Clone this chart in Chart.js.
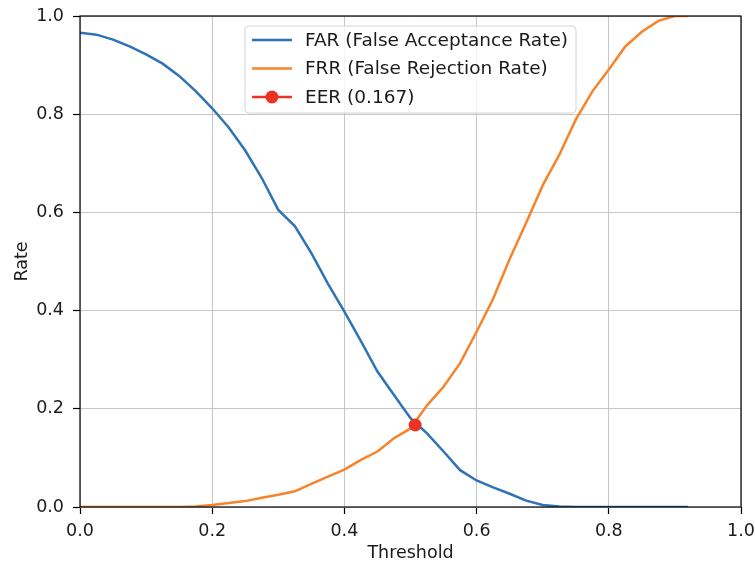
<!DOCTYPE html>
<html>
<head>
<meta charset="utf-8">
<script src="https://cdn.jsdelivr.net/npm/chart.js@4"></script>
<style>
  body { margin: 0; background: #fff; }
  #chartContainer { width: 755px; height: 562px; }
</style>
</head>
<body>
<div id="chartContainer"><canvas id="myChart" width="755" height="562"></canvas></div>
<script>
// thresholds shared by both curves
const thresholds = [0.000, 0.025, 0.050, 0.075, 0.100, 0.125, 0.150, 0.175, 0.200, 0.225,
  0.250, 0.275, 0.300, 0.325, 0.350, 0.375, 0.400, 0.425, 0.450, 0.475,
  0.500, 0.525, 0.550, 0.575, 0.600, 0.625, 0.650, 0.675, 0.700, 0.725,
  0.750, 0.775, 0.800, 0.825, 0.850, 0.875, 0.900, 0.920];
const farRate = [0.966, 0.962, 0.952, 0.938, 0.922, 0.903, 0.878, 0.847, 0.812, 0.773,
  0.726, 0.670, 0.605, 0.572, 0.517, 0.455, 0.398, 0.338, 0.276, 0.228,
  0.181, 0.150, 0.113, 0.075, 0.054, 0.040, 0.027, 0.013, 0.004, 0.001,
  0, 0, 0, 0, 0, 0, 0, 0];
const frrRate = [0, 0, 0, 0, 0, 0, 0, 0.001, 0.004, 0.008,
  0.012, 0.019, 0.025, 0.032, 0.047, 0.062, 0.076, 0.096, 0.113, 0.140,
  0.160, 0.207, 0.245, 0.293, 0.357, 0.424, 0.505, 0.579, 0.655, 0.717,
  0.789, 0.846, 0.891, 0.938, 0.968, 0.990, 1.0, 1.0];
const eerThreshold = [0.507];
const eerRate = [0.167];
const axisTicks = [0, 0.2, 0.4, 0.6, 0.8, 1.0];

const fontFamily = "'DejaVu Sans', sans-serif";
const fontSize = 17.5;
const legendFontSize = 18.5;

function toPoints(xs, ys) {
  return xs.map((x, i) => ({ x: x, y: ys[i] }));
}

// box around the plot, like matplotlib spines
const framePlugin = {
  id: 'frame',
  afterDatasetsDraw(chart) {
    const a = chart.chartArea;
    const ctx = chart.ctx;
    ctx.save();
    ctx.strokeStyle = '#000';
    ctx.lineWidth = 1.2;
    ctx.strokeRect(a.left, a.top, a.right - a.left, a.bottom - a.top);
    ctx.restore();
  }
};

// legend inside the plot, top centre
const legendPlugin = {
  id: 'innerLegend',
  afterDraw(chart) {
    const ctx = chart.ctx;
    const a = chart.chartArea;
    const items = chart.data.datasets.slice().sort((p, q) => q.order - p.order);
    ctx.save();
    ctx.font = legendFontSize + 'px ' + fontFamily;
    let textW = 0;
    items.forEach(d => { textW = Math.max(textW, ctx.measureText(d.label).width); });
    const padL = 7, handle = 40, gap = 13, padR = 8, rowH = 28.5;
    const w = padL + handle + gap + textW + padR;
    const h = 87;
    const x0 = (a.left + a.right) / 2 - w / 2;
    const y0 = a.top + 10;
    // box
    ctx.beginPath();
    ctx.roundRect(x0, y0, w, h, 4);
    ctx.fillStyle = 'rgba(255,255,255,0.8)';
    ctx.fill();
    ctx.strokeStyle = '#d4d4d4';
    ctx.lineWidth = 1;
    ctx.stroke();
    items.forEach((d, i) => {
      const cy = y0 + 14 + i * rowH;
      ctx.beginPath();
      ctx.moveTo(x0 + padL, cy);
      ctx.lineTo(x0 + padL + handle, cy);
      ctx.strokeStyle = d.borderColor;
      ctx.lineWidth = 2.5;
      ctx.stroke();
      if (d.showLine === false) {
        ctx.beginPath();
        ctx.arc(x0 + padL + handle / 2, cy, d.pointRadius, 0, Math.PI * 2);
        ctx.fillStyle = d.backgroundColor;
        ctx.fill();
      }
      ctx.fillStyle = '#1a1a1a';
      ctx.textBaseline = 'middle';
      ctx.fillText(d.label, x0 + padL + handle + gap, cy + 1);
    });
    ctx.restore();
  }
};

function rateChart() {
  const ctx = document.getElementById('myChart').getContext('2d');
  new Chart(ctx, {
    type: 'scatter',
    data: {
      datasets: [{
        label: 'FAR (False Acceptance Rate)',
        data: toPoints(thresholds, farRate),
        showLine: true,
        borderColor: '#2f73b5',
        backgroundColor: '#2f73b5',
        borderWidth: 2.5,
        pointRadius: 0,
        order: 2
      }, {
        label: 'FRR (False Rejection Rate)',
        data: toPoints(thresholds, frrRate),
        showLine: true,
        borderColor: '#f5842a',
        backgroundColor: '#f5842a',
        borderWidth: 2.5,
        pointRadius: 0,
        order: 1
      }, {
        label: 'EER (' + eerRate[0].toFixed(3) + ')',
        data: toPoints(eerThreshold, eerRate),
        showLine: false,
        borderColor: '#ea3323',
        backgroundColor: '#ea3323',
        pointRadius: 6.5,
        pointBorderWidth: 0,
        order: 0
      }]
    },
    options: {
      responsive: false,
      animation: false,
      layout: { padding: { top: 16, right: 14, left: 0, bottom: 0 } },
      plugins: {
        legend: { display: false },
        tooltip: { enabled: false }
      },
      scales: {
        x: {
          type: 'linear',
          min: 0,
          max: 1,
          afterBuildTicks: s => { s.ticks = axisTicks.map(v => ({ value: v })); },
          afterFit: s => { s.height = 55; s.paddingLeft = 0; s.paddingRight = 0; },
          border: { display: false },
          grid: { color: '#c6c6c6', lineWidth: 1, tickColor: '#000', tickLength: 7, tickWidth: 1.2 },
          ticks: {
            color: '#1a1a1a',
            padding: 7,
            maxRotation: 0,
            font: { family: fontFamily, size: fontSize },
            callback: v => v.toFixed(1)
          },
          title: {
            display: true,
            text: 'Threshold',
            color: '#1a1a1a',
            padding: { top: 0, bottom: 0 },
            font: { family: fontFamily, size: fontSize, lineHeight: 1 }
          }
        },
        y: {
          type: 'linear',
          min: 0,
          max: 1,
          afterBuildTicks: s => { s.ticks = axisTicks.map(v => ({ value: v })); },
          afterFit: s => { s.width = 80; s.paddingTop = 0; s.paddingBottom = 0; },
          border: { display: false },
          grid: { color: '#c6c6c6', lineWidth: 1, tickColor: '#000', tickLength: 7, tickWidth: 1.2 },
          ticks: {
            color: '#1a1a1a',
            padding: 9,
            font: { family: fontFamily, size: fontSize },
            callback: v => v.toFixed(1)
          },
          title: {
            display: true,
            text: 'Rate',
            color: '#1a1a1a',
            padding: { top: 14, bottom: 0 },
            font: { family: fontFamily, size: fontSize, lineHeight: 1 }
          }
        }
      }
    },
    plugins: [framePlugin, legendPlugin]
  });
}

rateChart();
</script>
</body>
</html>
